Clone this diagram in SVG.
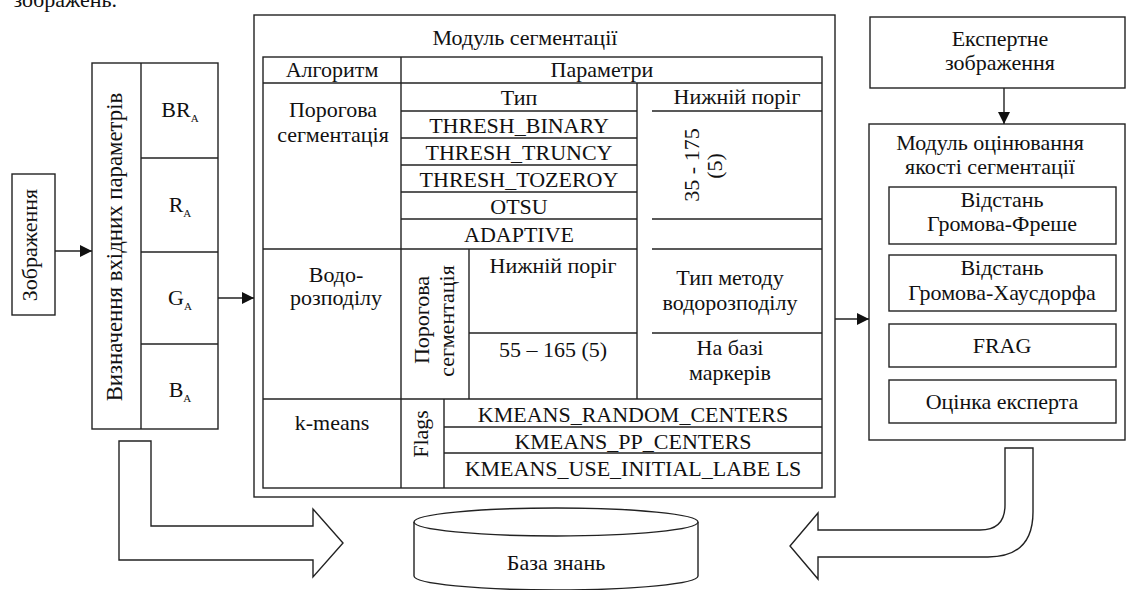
<svg xmlns="http://www.w3.org/2000/svg" width="1127" height="590" viewBox="0 0 1127 590">
<style>
.b{fill:#fff;stroke:#222;stroke-width:1.4}
.l{stroke:#222;stroke-width:1.4;fill:none}
.t{font-family:'Liberation Serif','DejaVu Serif','Noto Serif',serif;font-size:22px;fill:#111;text-anchor:middle}
.s{font-size:11px}
</style>
<defs>
<marker id="ah" markerWidth="12" markerHeight="12" refX="12" refY="6" orient="auto" markerUnits="userSpaceOnUse">
<path d="M0,0 L12,6 L0,12 Z" fill="#111"/>
</marker>
</defs>
<rect width="1127" height="590" fill="#fff"/>
<text class="t" x="117" y="7" style="text-anchor:end">зображень.</text>

<g id="image">
<rect class="b" x="12" y="174" width="43" height="141"/>
<text class="t" transform="translate(37,245) rotate(-90)">Зображення</text>
</g>

<g id="input-params">
<rect class="b" x="92" y="63" width="126" height="366"/>
<line class="l" x1="141" y1="63" x2="141" y2="429"/>
<line class="l" x1="141" y1="158" x2="218" y2="158"/>
<line class="l" x1="141" y1="252" x2="218" y2="252"/>
<line class="l" x1="141" y1="344" x2="218" y2="344"/>
<text class="t" style="font-size:22.8px" transform="translate(122,247) rotate(-90)">Визначення вхідних параметрів</text>
<text class="t" x="180" y="117">BR<tspan class="s" dy="5">A</tspan></text>
<text class="t" x="180" y="212">R<tspan class="s" dy="5">A</tspan></text>
<text class="t" x="180" y="305">G<tspan class="s" dy="5">A</tspan></text>
<text class="t" x="180" y="397">B<tspan class="s" dy="5">A</tspan></text>
</g>

<g id="segmentation-module">
<rect class="b" x="254" y="15" width="581" height="482"/>
<text class="t" x="525" y="45">Модуль сегментації</text>
<rect class="b" x="263" y="57" width="559" height="431"/>
<line class="l" x1="263" y1="83" x2="822" y2="83"/>
<line class="l" x1="401" y1="57" x2="401" y2="488"/>
<line class="l" x1="637" y1="83" x2="637" y2="399"/>
<line class="l" x1="401" y1="111" x2="637" y2="111"/>
<line class="l" x1="401" y1="138" x2="637" y2="138"/>
<line class="l" x1="401" y1="165" x2="637" y2="165"/>
<line class="l" x1="401" y1="192" x2="637" y2="192"/>
<line class="l" x1="401" y1="219" x2="637" y2="219"/>
<line class="l" x1="263" y1="249" x2="637" y2="249"/>
<line class="l" x1="652" y1="111" x2="822" y2="111"/>
<line class="l" x1="652" y1="219" x2="822" y2="219"/>
<line class="l" x1="652" y1="249" x2="822" y2="249"/>
<line class="l" x1="652" y1="333" x2="822" y2="333"/>
<line class="l" x1="469" y1="249" x2="469" y2="399"/>
<line class="l" x1="469" y1="333" x2="637" y2="333"/>
<line class="l" x1="263" y1="399" x2="822" y2="399"/>
<line class="l" x1="444" y1="399" x2="444" y2="488"/>
<line class="l" x1="444" y1="427" x2="822" y2="427"/>
<line class="l" x1="444" y1="453" x2="822" y2="453"/>
<text class="t" x="332" y="77">Алгоритм</text>
<text class="t" x="602" y="77">Параметри</text>
<text class="t" x="333" y="117">Порогова</text>
<text class="t" x="333" y="142">сегментація</text>
<text class="t" x="519" y="105">Тип</text>
<text class="t" x="519" y="133">THRESH_BINARY</text>
<text class="t" x="519" y="160">THRESH_TRUNCY</text>
<text class="t" x="519" y="187">THRESH_TOZEROY</text>
<text class="t" x="519" y="214">OTSU</text>
<text class="t" x="519" y="242">ADAPTIVE</text>
<text class="t" x="737" y="104">Нижній поріг</text>
<text class="t" transform="translate(699,165) rotate(-90)">35 - 175</text>
<text class="t" transform="translate(722,166) rotate(-90)">(5)</text>
<text class="t" x="336" y="282">Водо-</text>
<text class="t" x="336" y="305">розподілу</text>
<text class="t" transform="translate(429,320) rotate(-90)">Порогова</text>
<text class="t" transform="translate(454,321) rotate(-90)">сегментація</text>
<text class="t" x="553" y="273">Нижній поріг</text>
<text class="t" x="553" y="357">55 – 165 (5)</text>
<text class="t" x="730" y="285">Тип методу</text>
<text class="t" x="730" y="310">водорозподілу</text>
<text class="t" x="730" y="355">На базі</text>
<text class="t" x="730" y="380">маркерів</text>
<text class="t" x="332" y="430">k-means</text>
<text class="t" transform="translate(428,434) rotate(-90)">Flags</text>
<text class="t" x="633" y="422">KMEANS_RANDOM_CENTERS</text>
<text class="t" x="633" y="449">KMEANS_PP_CENTERS</text>
<text class="t" x="633" y="476">KMEANS_USE_INITIAL_LABE LS</text>
</g>

<g id="expert-image">
<rect class="b" x="870" y="17" width="255" height="71"/>
<text class="t" x="1000" y="46">Експертне</text>
<text class="t" x="1000" y="70">зображення</text>
</g>

<g id="evaluation-module">
<rect class="b" x="869" y="124" width="256" height="316"/>
<text class="t" x="990" y="150">Модуль оцінювання</text>
<text class="t" x="990" y="174">якості сегментації</text>
<rect class="b" x="889" y="187" width="227" height="57"/>
<text class="t" x="1002" y="207">Відстань</text>
<text class="t" x="1002" y="231">Громова-Фреше</text>
<rect class="b" x="889" y="255" width="227" height="56"/>
<text class="t" x="1002" y="275">Відстань</text>
<text class="t" x="1002" y="300">Громова-Хаусдорфа</text>
<rect class="b" x="889" y="324" width="227" height="43"/>
<text class="t" x="1002" y="353">FRAG</text>
<rect class="b" x="889" y="380" width="227" height="43"/>
<text class="t" x="1002" y="409">Оцінка експерта</text>
</g>

<g id="knowledge-base">
<path class="b" d="M414,522 L414,576 A142,14 0 0 0 698,576 L698,522"/>
<ellipse class="b" cx="556" cy="522" rx="142" ry="14"/>
<text class="t" x="556" y="570">База знань</text>
</g>

<g id="connectors">
<line class="l" x1="55" y1="251" x2="92" y2="251" marker-end="url(#ah)"/>
<line class="l" x1="218" y1="298" x2="254" y2="298" marker-end="url(#ah)"/>
<line class="l" x1="835" y1="319" x2="869" y2="319" marker-end="url(#ah)"/>
<line class="l" x1="1004" y1="88" x2="1004" y2="124" marker-end="url(#ah)"/>
<path class="b" d="M119,441 L151,441 L151,526 L313,526 L313,509 L343,543 L313,577 L313,560 L119,560 Z"/>
<path class="b" d="M1005,448 L1033,448 L1033,512 Q1033,557 988,557 L818,557 L818,579 L790,546 L818,513 L818,530 L980,530 Q1005,530 1005,505 Z"/>
</g>
</svg>
